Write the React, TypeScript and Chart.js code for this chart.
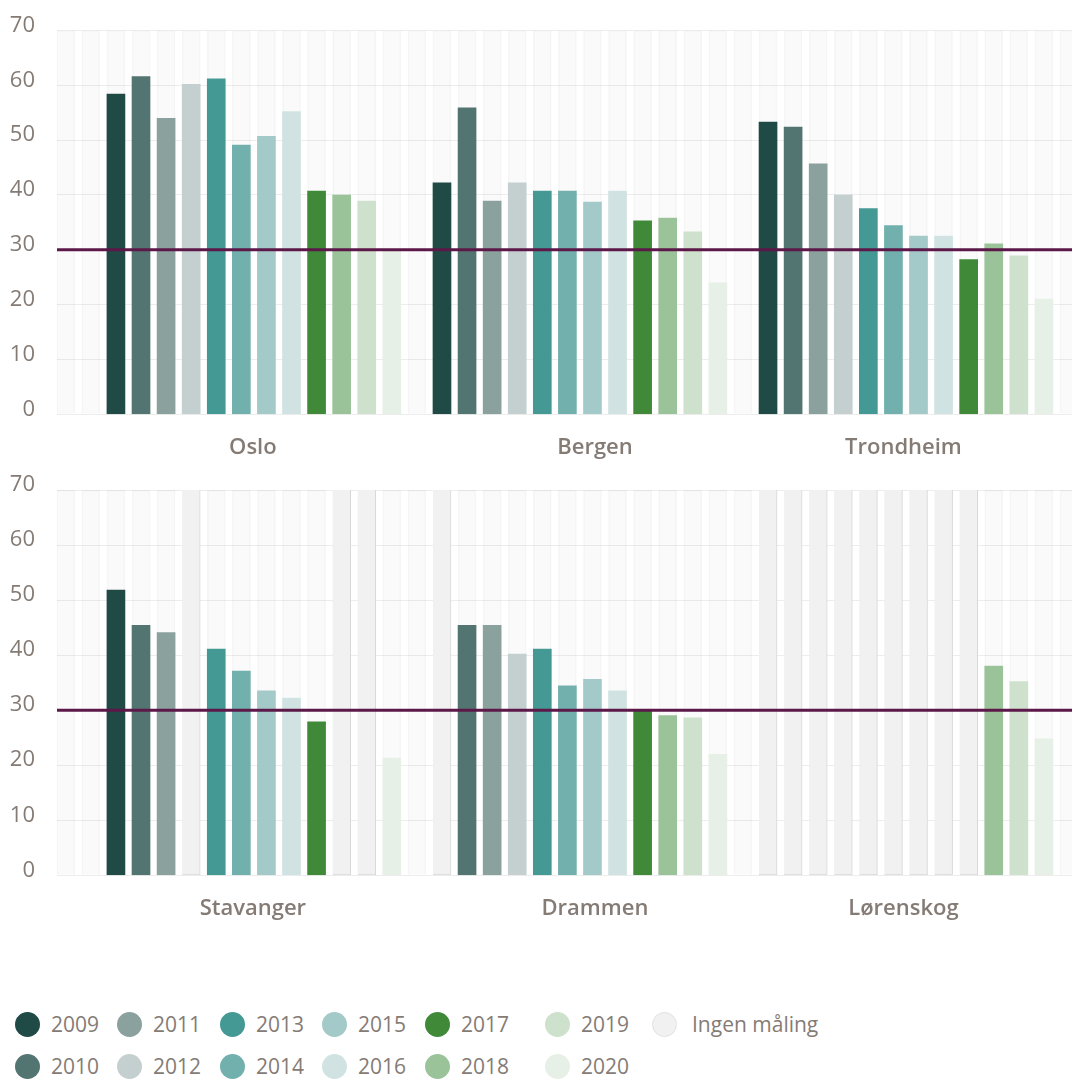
import React, { useEffect, useRef } from "react";
import { Chart, registerables } from "chart.js";

Chart.register(...registerables);

// ---------- data ----------
const YEARS = ["2009", "2010", "2011", "2012", "2013", "2014", "2015", "2016", "2017", "2018", "2019", "2020"];
const YEAR_COLORS = [
  "#1f4a46", "#537571", "#8ba19e", "#c4d0cf", "#449995", "#72b0ad",
  "#a3cac8", "#d0e3e2", "#3f8939", "#9bc399", "#cde1cc", "#e7f0e6",
];
const NO_DATA_LABEL = "Ingen måling";
const NO_DATA_COLOR = "#f1f1f1";

const TOP_CITIES = ["Oslo", "Bergen", "Trondheim"];
const BOTTOM_CITIES = ["Stavanger", "Drammen", "Lørenskog"];

const OSLO = [58.4, 61.6, 54.0, 60.2, 61.2, 49.1, 50.7, 55.2, 40.7, 40.0, 38.9, 29.9];
const BERGEN = [42.2, 55.9, 38.9, 42.2, 40.7, 40.7, 38.7, 40.7, 35.3, 35.8, 33.3, 24.0];
const TRONDHEIM = [53.3, 52.4, 45.7, 40.0, 37.5, 34.4, 32.5, 32.5, 28.2, 31.1, 28.9, 21.0];
const STAVANGER = [51.8, 45.4, 44.1, null, 41.1, 37.1, 33.5, 32.2, 27.9, null, null, 21.3];
const DRAMMEN = [null, 45.4, 45.4, 40.2, 41.1, 34.4, 35.6, 33.5, 29.9, 29.0, 28.6, 22.0];
const LORENSKOG = [null, null, null, null, null, null, null, null, null, 38.0, 35.2, 24.8];

const Y_MAX = 70;
const Y_STEP = 10;
const LIMIT = 30;

// ---------- layout / style ----------
const TEXT_COLOR = "#857b75";
const FONT = "'Open Sans', 'Noto Sans', sans-serif";
const LEAD_SLOTS = 2;
const GROUP_SLOTS = YEARS.length + 1;
const TOTAL_SLOTS = LEAD_SLOTS + GROUP_SLOTS * 3;
const X_MIN = -0.35;
const X_MAX = 40.12;
const LABEL_POS = [7.46, 21.1, 33.4];

const slotOf = (city: number, year: number) => LEAD_SLOTS + city * GROUP_SLOTS + year;

type PanelProps = {
  cities: string[];
  values: (number | null)[][];
  top: number;
  height: number;
  plotTop: number;
  plotBottom: number;
};

function Panel({ cities, values, top, height, plotTop, plotBottom }: PanelProps) {
  const ref = useRef<HTMLCanvasElement | null>(null);

  useEffect(() => {
    if (!ref.current) return;
    const bg = [];
    for (let s = 0; s < TOTAL_SLOTS; s++) bg.push({ x: s, y: Y_MAX });

    const yearSets = YEARS.map((yr, yi) => ({
      type: "bar" as const,
      label: yr,
      data: cities.flatMap((_, ci) =>
        values[ci][yi] == null ? [] : [{ x: slotOf(ci, yi), y: values[ci][yi] as number }]
      ),
      backgroundColor: YEAR_COLORS[yi],
      borderWidth: 0,
      order: 1,
    }));

    const missing = cities.flatMap((_, ci) =>
      YEARS.flatMap((__, yi) => (values[ci][yi] == null ? [{ x: slotOf(ci, yi), y: Y_MAX }] : []))
    );

    const chart = new Chart(ref.current, {
      type: "bar",
      data: {
        datasets: [
          {
            type: "bar",
            label: "bg",
            data: bg,
            backgroundColor: "rgba(0,0,0,0.018)",
            borderColor: "rgba(0,0,0,0.035)",
            borderWidth: { left: 1, right: 1, top: 1, bottom: 0 },
            borderSkipped: false,
            order: 10,
          } as any,
          ...yearSets,
          {
            type: "bar",
            label: NO_DATA_LABEL,
            data: missing,
            backgroundColor: NO_DATA_COLOR,
            borderColor: "#d8d8d8",
            borderWidth: { left: 0, right: 1, top: 0, bottom: 1 },
            borderSkipped: false,
            order: 1,
          } as any,
          {
            type: "line",
            label: "limit",
            data: [
              { x: X_MIN, y: LIMIT },
              { x: X_MAX, y: LIMIT },
            ],
            borderColor: "#5b1848",
            borderWidth: 3,
            pointRadius: 0,
            clip: false,
            order: 0,
          } as any,
        ],
      },
      options: {
        animation: false,
        responsive: false,
        maintainAspectRatio: false,
        events: [],
        layout: { padding: { top: plotTop, left: 0, right: 0, bottom: 0 } },
        datasets: { bar: { grouped: false, barThickness: 18 } },
        plugins: { legend: { display: false }, tooltip: { enabled: false } },
        scales: {
          x: {
            type: "linear",
            min: X_MIN,
            max: X_MAX,
            offset: false,
            bounds: "data",
            grid: { display: false, offset: false },
            border: { display: false },
            afterBuildTicks: (s: any) => {
              s.ticks = LABEL_POS.map((v) => ({ value: v }));
            },
            afterFit: (s: any) => {
              s.height = height - plotBottom;
              s.paddingLeft = 0;
              s.paddingRight = 0;
            },
            ticks: {
              autoSkip: false,
              maxRotation: 0,
              minRotation: 0,
              padding: 12,
              color: TEXT_COLOR,
              font: { family: FONT, size: 22, weight: "600" },
              callback: (_v: any, i: number) => cities[i],
            },
          },
          y: {
            min: 0,
            max: Y_MAX,
            grid: { color: "#ededed", drawTicks: false },
            border: { display: false },
            afterFit: (s: any) => {
              s.width = 57;
              s.paddingTop = 0;
              s.paddingBottom = 0;
            },
            ticks: {
              stepSize: Y_STEP,
              padding: 22,
              labelOffset: -5,
              color: TEXT_COLOR,
              font: { family: FONT, size: 22 },
            },
          },
        },
      } as any,
    });
    return () => chart.destroy();
  }, [cities, values, height, plotTop, plotBottom]);

  return (
    <canvas
      ref={ref}
      width={1072}
      height={height}
      style={{ position: "absolute", left: 0, top, width: 1072, height, display: "block" }}
    />
  );
}

const LEGEND_COLS = [15, 117, 220, 322, 425, 545, 652];
const LEGEND_ROWS = [1024, 1066];

function Legend() {
  const items: { label: string; color: string; col: number; row: number }[] = [];
  YEARS.forEach((y, i) => items.push({ label: y, color: YEAR_COLORS[i], col: Math.floor(i / 2), row: i % 2 }));
  items.push({ label: NO_DATA_LABEL, color: NO_DATA_COLOR, col: 6, row: 0 });
  return (
    <>
      {items.map((it) => {
        const isNoData = it.label === NO_DATA_LABEL;
        return (
          <div
            key={it.label}
            style={{
              position: "absolute",
              left: LEGEND_COLS[it.col],
              top: LEGEND_ROWS[it.row] - 13,
              height: 26,
              display: "flex",
              alignItems: "center",
              whiteSpace: "nowrap",
              fontFamily: FONT,
              fontSize: 21,
              fontWeight: 500,
              color: TEXT_COLOR,
            }}
          >
            <span
              style={{
                width: 25,
                height: 25,
                borderRadius: "50%",
                background: it.color,
                boxSizing: "border-box",
                border: isNoData ? "1px solid #e2e2e2" : "none",
                marginRight: isNoData ? 15 : 11,
                flex: "0 0 auto",
              }}
            />
            <span>{it.label}</span>
          </div>
        );
      })}
    </>
  );
}

const TOP_VALUES = [OSLO, BERGEN, TRONDHEIM];
const BOTTOM_VALUES = [STAVANGER, DRAMMEN, LORENSKOG];

export default function App() {
  useEffect(() => {
    document.body.style.margin = "0";
  }, []);
  return (
    <div style={{ position: "fixed", left: 0, top: 0, width: 1072, height: 1079, background: "#ffffff", overflow: "hidden" }}>
      <Panel cities={TOP_CITIES} values={TOP_VALUES} top={0} height={470} plotTop={30.5} plotBottom={414.3} />
      <Panel cities={BOTTOM_CITIES} values={BOTTOM_VALUES} top={470} height={470} plotTop={20} plotBottom={405.3} />
      <Legend />
    </div>
  );
}
